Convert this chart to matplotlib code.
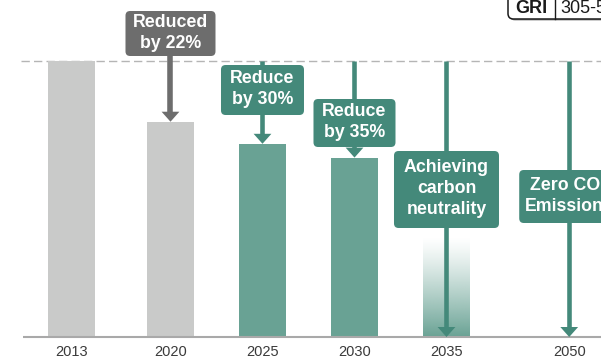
import numpy as np
import matplotlib
matplotlib.use("Agg")
import matplotlib.pyplot as plt
from matplotlib.patches import FancyBboxPatch

# ---- data -------------------------------------------------------------
years = ["2013", "2020", "2025", "2030", "2035", "2050"]
bar_years = ["2013", "2020", "2025", "2030"]
reduction_pct = [0, 22, 30, 35]                 # reduction versus 2013
bar_values = [100 - r for r in reduction_pct]   # emissions index (2013 = 100)
net_zero_years = ["2035", "2050"]
net_zero_values = [0, 0]
fade_height = 36                                 # faded column under 2035
box_labels = ["Reduced\nby 22%", "Reduce\nby 30%", "Reduce\nby 35%",
              "Achieving\ncarbon\nneutrality", "Zero CO\u2082\nEmissions"]
box_years = ["2020", "2025", "2030", "2035", "2050"]

# ---- layout / style ---------------------------------------------------
x_pos = dict(zip(years, [0, 1.076, 2.076, 3.076, 4.076, 5.41]))
W, H = 601, 358
BASE_PX, TOP_PX = 337, 61
SY = (BASE_PX - TOP_PX) / 100.0      # px per value unit
SX = 92.0                            # px per position unit
X0_PX = 71.5

GREY_BAR = "#c9cac9"
GREEN_BAR = "#69a294"
GREEN_BOX = "#44897a"
GREY_BOX = "#6d6d6d"
BAR_W = 47 / SX

# label boxes: (centre y px, width px, height px)
box_geom = [(33.5, 90, 45), (90, 83, 50), (123, 82, 48), (189.5, 105, 77), (196.5, 100, 53)]

FONT = ["Liberation Sans", "DejaVu Sans"]

fig = plt.figure(figsize=(W / 100, H / 100), dpi=100)
ax = fig.add_axes([0, 0, 1, 1])
XLIM = (-X0_PX / SX, (W - X0_PX) / SX)
YLIM = (-(H - BASE_PX) / SY, 100 + TOP_PX / SY)
ax.axis("off")


def ypx(p):
    return (BASE_PX - p) / SY


def xpx(p):
    return (p - X0_PX) / SX


# reference (2013) dashed level and baseline
ax.plot([xpx(21), xpx(W)], [100, 100], color="#b5b5b5", lw=1.0,
        dashes=(6, 3), zorder=1, solid_capstyle="butt")
ax.plot([xpx(23), xpx(W)], [0, 0], color="#a9a9a9", lw=1.5, zorder=4,
        solid_capstyle="butt")

# bars
for yr, v in zip(bar_years, bar_values):
    col = GREY_BAR if int(yr) <= 2020 else GREEN_BAR
    ax.bar(x_pos[yr], v, width=BAR_W, color=col, zorder=2)

# faded column for the carbon neutrality year (transparent at top)
grad = np.ones((256, 1, 4))
grad[:, 0, :3] = matplotlib.colors.to_rgb(GREEN_BAR)
grad[:, 0, 3] = np.linspace(0, 1, 256) ** 1.2     # row 0 = top
xc = x_pos["2035"]
ax.imshow(grad, extent=(xc - BAR_W / 2, xc + BAR_W / 2, 0, fade_height),
          origin="upper", aspect="auto", zorder=2, interpolation="bilinear")
ax.set_xlim(*XLIM)
ax.set_ylim(*YLIM)

# arrow targets
targets = dict(zip(bar_years, bar_values))
targets.update(dict(zip(net_zero_years, net_zero_values)))

HEAD_LEN = 10 / SY
for i, (yr, text) in enumerate(zip(box_years, box_labels)):
    cy, bw, bh = box_geom[i]
    x = x_pos[yr]
    grey = yr == "2020"
    col = GREY_BOX if grey else GREEN_BOX
    start = ypx(cy + bh / 2) if grey else 100
    tgt = targets[yr]
    lw = 4.0 if grey else 3.3
    ax.plot([x, x], [start, tgt + HEAD_LEN * 0.6], color=col, lw=lw,
            solid_capstyle="butt", zorder=5)
    ax.annotate("", xy=(x, tgt), xytext=(x, tgt + HEAD_LEN * 3),
                arrowprops=dict(arrowstyle="-|>,head_length=0.72,head_width=0.64",
                                lw=0, color=col, shrinkA=0, shrinkB=0,
                                mutation_scale=10), zorder=6)
    # label box
    w = bw / SX
    h = bh / SY
    box = FancyBboxPatch((x - w / 2, ypx(cy) - h / 2), w, h,
                         boxstyle="round,pad=0,rounding_size=0.05",
                         mutation_aspect=SX / SY,
                         facecolor=col, edgecolor="none", zorder=7)
    ax.add_patch(box)
    ax.text(x, ypx(cy) + 0.3, text, ha="center", va="center", color="white",
            fontsize=12.8, fontweight="bold", family=FONT, linespacing=1.32,
            zorder=8)

# year labels
for yr in years:
    ax.text(x_pos[yr], ypx(352), yr, ha="center", va="center",
            fontsize=10.5, color="#3a3a3a", family=FONT, zorder=8)

# GRI tag in the corner
shadow = FancyBboxPatch((xpx(509.5), ypx(20.5)), (660 - 508) / SX, 30 / SY,
                        boxstyle="round,pad=0,rounding_size=0.06",
                        mutation_aspect=SX / SY, facecolor="#9a9a9a",
                        edgecolor="none", zorder=8)
ax.add_patch(shadow)
tag = FancyBboxPatch((xpx(508), ypx(19)), (660 - 508) / SX, 30 / SY,
                     boxstyle="round,pad=0,rounding_size=0.06",
                     mutation_aspect=SX / SY, facecolor="white",
                     edgecolor="#1a1a1a", lw=1.1, zorder=9)
ax.add_patch(tag)
ax.plot([xpx(555), xpx(555)], [ypx(-2), ypx(19)], color="#1a1a1a", lw=1.0, zorder=10)
ax.text(xpx(531), ypx(9), "GRI", ha="center", va="center", fontsize=13,
        fontweight="bold", color="#1a1a1a", family=FONT, zorder=10)
ax.text(xpx(560), ypx(9), "305-5", ha="left", va="center", fontsize=13,
        color="#1a1a1a", family=FONT, zorder=10)

fig.savefig("out.png", dpi=100)
